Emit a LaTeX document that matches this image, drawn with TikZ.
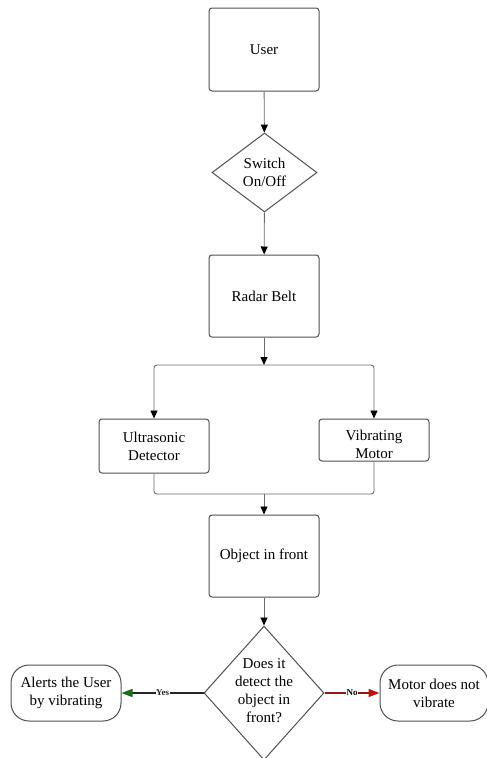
\documentclass[tikz,border=0pt]{standalone}
\usepackage{fontspec}
\setmainfont{Liberation Serif}
\usetikzlibrary{arrows.meta,shapes.geometric,positioning}
\definecolor{edge}{HTML}{505050}
\definecolor{wire}{HTML}{6A6A6A}
\definecolor{yesgreen}{HTML}{1E6B1E}
\definecolor{nored}{HTML}{8B1A1A}
\definecolor{noredtip}{HTML}{C01010}
\tikzset{
  box/.style={draw=edge, line width=1pt, rounded corners=3pt, fill=white,
    minimum width=110pt, inner sep=0pt},
  term/.style={draw=edge, line width=1pt, rounded corners=18pt, fill=white,
    minimum width=110pt, minimum height=56pt, inner sep=0pt},
  dia/.style={draw=edge, line width=1pt, diamond, fill=white, inner sep=0pt},
  txt/.style={align=center, font=\fontsize{15}{18}\selectfont, inner sep=0pt},
  conn/.style={draw=wire, line width=0.9pt},
  arr/.style={conn, -{Triangle[length=8pt,width=7pt,color=black]}},
  lbl/.style={font=\bfseries\fontsize{9}{10}\selectfont, fill=white, inner sep=0.5pt}
}
\begin{document}
\begin{tikzpicture}[x=1pt,y=-1pt]
\useasboundingbox (0,0) rectangle (487,758);
\clip (0,0) rectangle (487,758);
% nodes
\node[box, minimum height=83pt] (user) at (264,49.5) {};
\node[txt] at (user) {User};
\node[dia, minimum width=105pt, minimum height=79pt] (sw) at (264.5,172.5) {};
\node[txt] at (sw) {Switch\\On/Off};
\node[box, minimum height=82pt] (rb) at (264,296) {};
\node[txt] at (rb) {Radar Belt};
\node[box, minimum height=54pt] (us) at (154,446) {};
\node[txt] at (us) {Ultrasonic\\Detector};
\node[box, minimum height=42pt] (vm) at (374,440) {};
\node[txt] at (374,444) {Vibrating\\Motor};
\node[box, minimum height=82pt] (obj) at (264,556) {};
\node[txt] at (obj) {Object in front};
\node[dia, minimum width=120pt, minimum height=134pt] (det) at (264,693) {};
\node[txt] at (264,691) {Does it\\detect the\\object in\\front?};
\node[term] (alert) at (66,693) {};
\node[txt] at (alert) {Alerts the User\\by vibrating};
\node[term, minimum width=108pt] (motor) at (434,693) {};
\node[txt] at (motor) {Motor does not\\vibrate};
\coordinate (split) at (264,365);
\coordinate (merge) at (264,494);
% connectors
\draw[arr] (user) -- (sw);
\draw[arr] (sw) -- (rb);
\draw[arr] (rb) -- (split);
\draw[arr, rounded corners=3pt] (split) -| (us.north);
\draw[arr, rounded corners=3pt] (split) -| (vm.north);
\draw[conn, rounded corners=3pt] (us.south) |- (merge);
\draw[conn, rounded corners=3pt] (vm.south) |- (merge);
\draw[arr] (merge) -- (obj);
\draw[arr] (obj) -- (det);
\draw[line width=1.3pt, black!85, -{Triangle[length=11pt,width=8pt,color=yesgreen]}] (det.west) -- node[lbl]{Yes} (alert.east);
\draw[line width=1.3pt, nored, -{Triangle[length=11pt,width=8pt,color=noredtip]}] (det.east) -- node[lbl, text=black]{No} (motor.west);
\end{tikzpicture}
\end{document}
